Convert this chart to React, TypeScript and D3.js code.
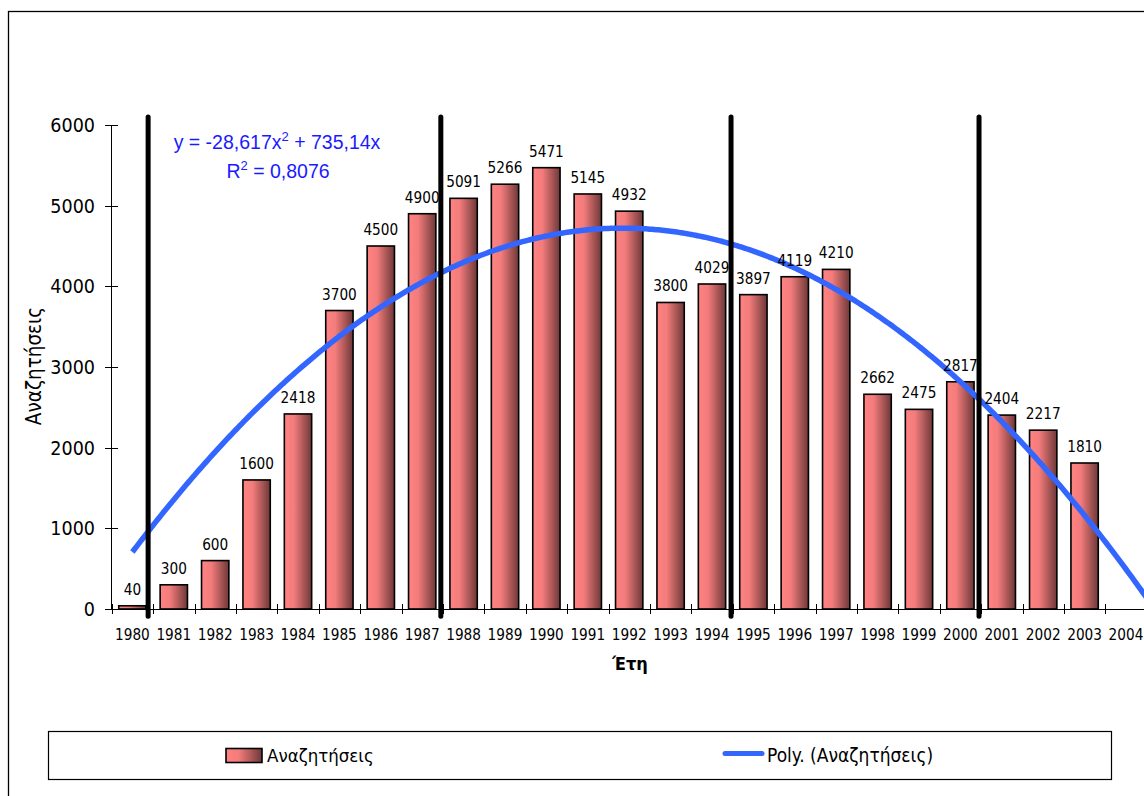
import React, { useEffect, useRef } from 'react';
import * as d3 from 'd3';

const years = ['1980', '1981', '1982', '1983', '1984', '1985', '1986', '1987', '1988', '1989', '1990', '1991', '1992',
  '1993', '1994', '1995', '1996', '1997', '1998', '1999', '2000', '2001', '2002', '2003', '2004'];
const searches = [40, 300, 600, 1600, 2418, 3700, 4500, 4900, 5091, 5266, 5471, 5145, 4932,
  3800, 4029, 3897, 4119, 4210, 2662, 2475, 2817, 2404, 2217, 1810, null];
const yTicks = [0, 1000, 2000, 3000, 4000, 5000, 6000];
// polynomial trend: y = a*x^2 + b*x, x = 1..n
const trendA = -28.617;
const trendB = 735.14;
// period separators, in category-index units (1 = 1980)
const separators = [1.38, 8.45, 15.46, 21.45];

const FONT = '"DejaVu Sans Condensed", "DejaVu Sans", sans-serif';
const ARIAL = '"Liberation Sans", Arial, sans-serif';

export default function App() {
  const svgRef = useRef<SVGSVGElement>(null);

  useEffect(() => {
    if (!svgRef.current) return;
    const svg = d3.select(svgRef.current);
    svg.selectAll('*').remove();

    const left = 111.7, step = 41.4;
    const right = left + years.length * step;
    const x = d3.scaleBand<string>().domain(years).range([left, right]).paddingInner(0.34).paddingOuter(0.17);
    const xi = d3.scaleLinear().domain([0.5, years.length + 0.5]).range([left, right]);
    const y = d3.scaleLinear().domain([0, 6000]).range([609, 125]);

    const defs = svg.append('defs');
    const grad = defs.append('linearGradient').attr('id', 'barGrad').attr('x1', '0').attr('x2', '1').attr('y1', '0').attr('y2', '0');
    grad.append('stop').attr('offset', '0%').attr('stop-color', '#ff8282');
    grad.append('stop').attr('offset', '35%').attr('stop-color', '#f47c7c');
    grad.append('stop').attr('offset', '100%').attr('stop-color', '#6e3838');

    // outer frame
    svg.append('rect').attr('x', 8.5).attr('y', 11.5).attr('width', 1200).attr('height', 900)
      .attr('fill', 'none').attr('stroke', '#000').attr('stroke-width', 1.3);

    // axes
    svg.append('line').attr('x1', 111.5).attr('x2', 111.5).attr('y1', y(6000)).attr('y2', y(0))
      .attr('stroke', '#000').attr('stroke-width', 1);
    svg.append('line').attr('x1', 105).attr('x2', 1144).attr('y1', 609.5).attr('y2', 609.5)
      .attr('stroke', '#000').attr('stroke-width', 1);

    svg.append('g').selectAll('line').data(yTicks).join('line')
      .attr('x1', 105).attr('x2', 118).attr('y1', d => Math.round(y(d)) + 0.5).attr('y2', d => Math.round(y(d)) + 0.5)
      .attr('stroke', '#000');
    svg.append('g').selectAll('text').data(yTicks).join('text')
      .attr('x', 95).attr('y', d => y(d)).attr('dy', '0.36em').attr('text-anchor', 'end')
      .attr('font-family', FONT).attr('font-size', 19.5).attr('fill', '#000').text(d => d);

    const boundaries = d3.range(years.length + 1).map(i => left + i * step);
    svg.append('g').selectAll('line').data(boundaries).join('line')
      .attr('x1', d => Math.round(d) + 0.5).attr('x2', d => Math.round(d) + 0.5).attr('y1', 604).attr('y2', 614)
      .attr('stroke', '#000');

    svg.append('g').selectAll('text').data(years).join('text')
      .attr('x', d => (x(d) as number) + x.bandwidth() / 2).attr('y', 639.5)
      .attr('text-anchor', 'middle').attr('font-family', FONT).attr('font-size', 15.2).attr('fill', '#000').text(d => d);

    // bars
    const barData = years.map((yr, i) => ({ yr, v: searches[i] })).filter(d => d.v != null) as { yr: string; v: number }[];
    svg.append('g').selectAll('rect').data(barData).join('rect')
      .attr('x', d => x(d.yr) as number).attr('width', x.bandwidth())
      .attr('y', d => y(d.v)).attr('height', d => y(0) - y(d.v))
      .attr('fill', 'url(#barGrad)').attr('stroke', '#000').attr('stroke-width', 1.6);

    // trend line
    const ts = d3.range(1, 25.75, 0.05);
    const line = d3.line<number>().x(t => xi(t)).y(t => y(trendA * t * t + trendB * t));
    svg.append('path').datum(ts).attr('d', line).attr('fill', 'none')
      .attr('stroke', '#3366ff').attr('stroke-width', 5.5);

    // value labels
    svg.append('g').selectAll('text').data(barData).join('text')
      .attr('x', d => (x(d.yr) as number) + x.bandwidth() / 2).attr('y', d => y(d.v) - 11)
      .attr('text-anchor', 'middle').attr('font-family', FONT).attr('font-size', 15.2).attr('fill', '#000').text(d => d.v);

    // period separators
    svg.append('g').selectAll('line').data(separators).join('line')
      .attr('x1', d => xi(d)).attr('x2', d => xi(d)).attr('y1', y(6100)).attr('y2', y(-90))
      .attr('stroke', '#000').attr('stroke-width', 5).attr('stroke-linecap', 'round');

    // equation
    const eq = svg.append('text').attr('x', 277).attr('y', 149).attr('text-anchor', 'middle')
      .attr('font-family', ARIAL).attr('font-size', 19.5).attr('fill', '#1a1aff');
    eq.append('tspan').text('y = -28,617x');
    eq.append('tspan').attr('dy', -8).attr('font-size', 13).text('2');
    eq.append('tspan').attr('dy', 8).text(' + 735,14x');
    const r2 = svg.append('text').attr('x', 278).attr('y', 178).attr('text-anchor', 'middle')
      .attr('font-family', ARIAL).attr('font-size', 19.5).attr('fill', '#1a1aff');
    r2.append('tspan').text('R');
    r2.append('tspan').attr('dy', -8).attr('font-size', 13).text('2');
    r2.append('tspan').attr('dy', 8).text(' = 0,8076');

    // axis titles
    svg.append('text').attr('transform', 'translate(41,366) rotate(-90)').attr('text-anchor', 'middle')
      .attr('font-family', FONT).attr('font-size', 20.5).attr('fill', '#000').text('Αναζητήσεις');
    svg.append('text').attr('x', 630).attr('y', 670).attr('text-anchor', 'middle')
      .attr('font-family', FONT).attr('font-weight', 'bold').attr('font-size', 18).attr('fill', '#000').text('Έτη');

    // legend
    svg.append('rect').attr('x', 48.5).attr('y', 731.5).attr('width', 1063).attr('height', 48)
      .attr('fill', '#fff').attr('stroke', '#000').attr('stroke-width', 1.2);
    svg.append('rect').attr('x', 226).attr('y', 748.5).attr('width', 36).attr('height', 14)
      .attr('fill', 'url(#barGrad)').attr('stroke', '#000').attr('stroke-width', 1.6);
    svg.append('text').attr('x', 267).attr('y', 755.5).attr('dy', '0.36em')
      .attr('font-family', FONT).attr('font-size', 18.5).attr('fill', '#000').text('Αναζητήσεις');
    svg.append('line').attr('x1', 725).attr('x2', 762).attr('y1', 753.5).attr('y2', 753.5)
      .attr('stroke', '#3366ff').attr('stroke-width', 5).attr('stroke-linecap', 'round');
    svg.append('text').attr('x', 767).attr('y', 755.5).attr('dy', '0.36em')
      .attr('font-family', FONT).attr('font-size', 19).attr('fill', '#000').text('Poly. (Αναζητήσεις)');
  }, []);

  return (
    <svg ref={svgRef} width={1144} height={796}
      style={{ position: 'absolute', left: 0, top: 0, background: '#fff', display: 'block' }} />
  );
}
